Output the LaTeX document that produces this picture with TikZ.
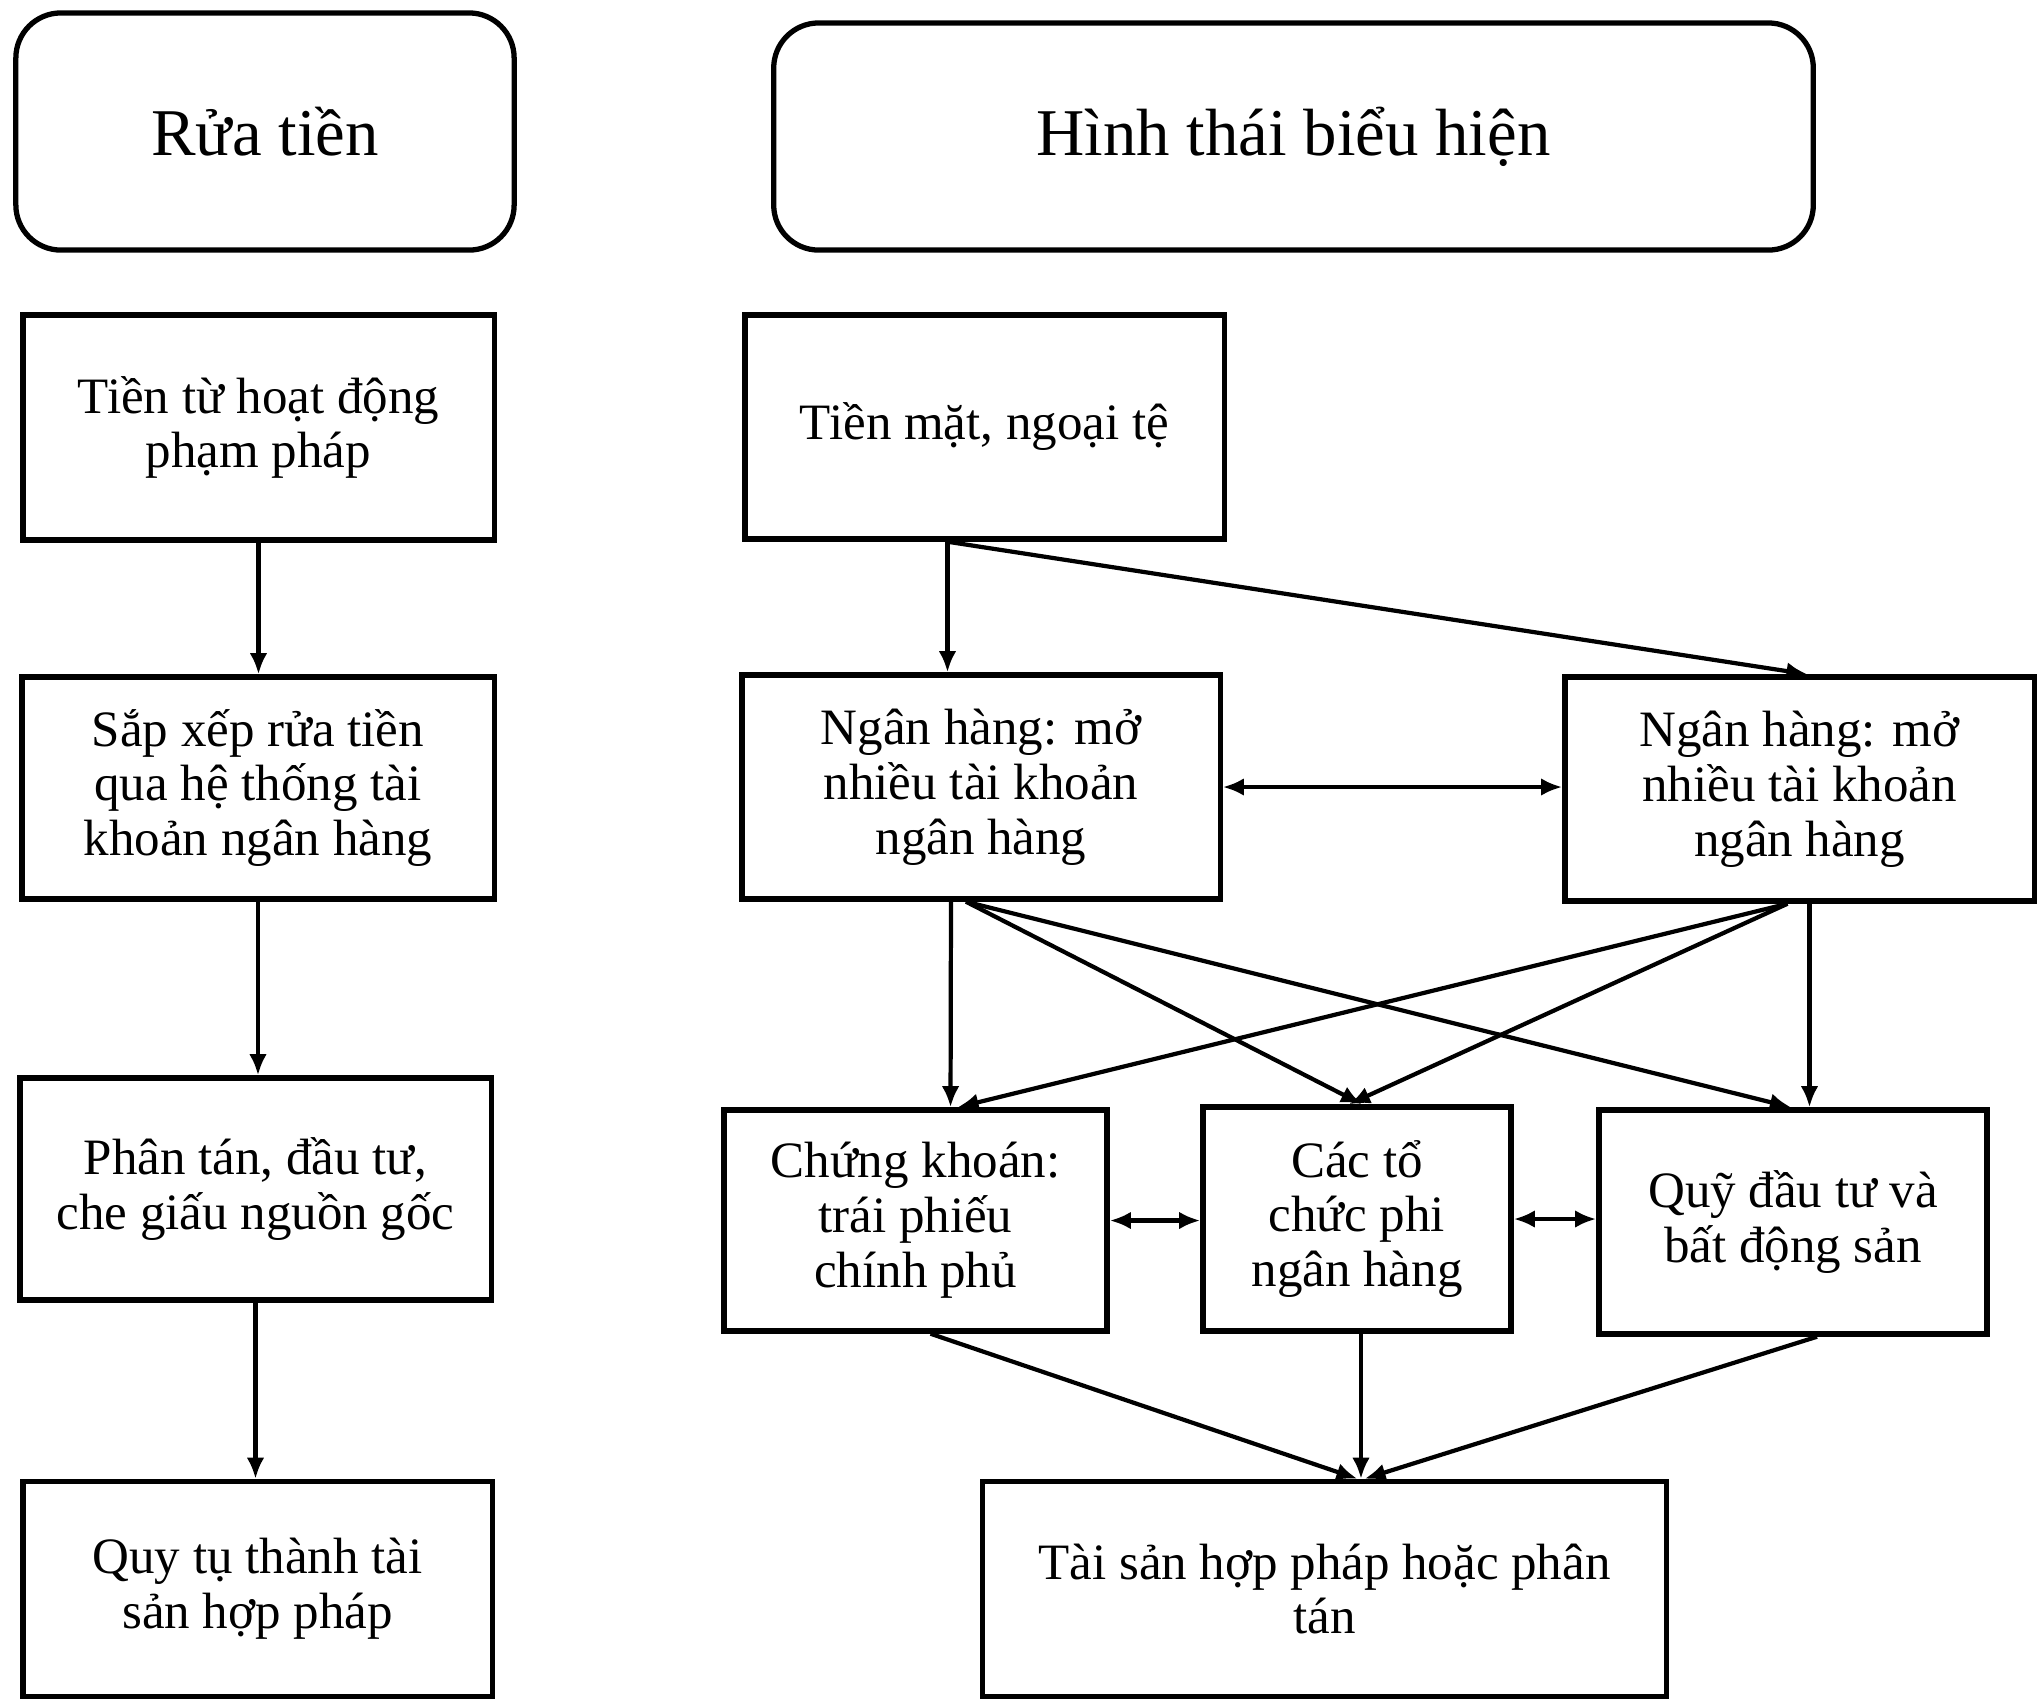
\documentclass[tikz,border=0pt]{standalone}
\usepackage{fontspec}
\setmainfont{Liberation Serif}
\usetikzlibrary{arrows.meta}
\tikzset{
  khung/.style={draw, line width=1.5pt, inner sep=0pt, align=center, font=\fontsize{14.5}{15.6}\selectfont},
  tieude/.style={draw, line width=1.5pt, rounded corners=0.45cm, inner sep=0pt, align=center, font=\fontsize{19}{22}\selectfont},
  mui/.style={line width=1.2pt, -{Latex[length=6pt,width=5pt]}},
  haimui/.style={line width=1.2pt, {Latex[length=6pt,width=5pt]}-{Latex[length=6pt,width=5pt]}}
}
\begin{document}
\begin{tikzpicture}[x=0.01cm, y=-0.01cm]
\useasboundingbox (0,0) rectangle (2042,1702);
\node[tieude, minimum width=4.98cm, minimum height=2.37cm] (rt) at (265,131.5){Rửa tiền};
\node[tieude, minimum width=10.39cm, minimum height=2.27cm] (ht) at (1293.5,136.5){Hình thái biểu hiện};
\node[khung, minimum width=4.71cm, minimum height=2.25cm] (a1) at (258.5,427.5){Tiền từ hoạt động\\phạm pháp};
\node[khung, minimum width=4.72cm, minimum height=2.22cm] (a2) at (258,788){Sắp xếp rửa tiền\\qua hệ thống tài\\khoản ngân hàng};
\node[khung, minimum width=4.71cm, minimum height=2.22cm] (a3) at (255.5,1189){Phân tán, đầu tư,\\che giấu nguồn gốc};
\node[khung, minimum width=4.69cm, minimum height=2.15cm] (a4) at (257.5,1589){Quy tụ thành tài\\sản hợp pháp};
\draw[mui](a1.south) -- (a1.south |- a2.north);
\draw[mui](a2.south) -- (a2.south |- a3.north);
\draw[mui](a3.south) -- (a3.south |- a4.north);
\node[khung, minimum width=4.79cm, minimum height=2.24cm] (b1) at (984.5,427){Tiền mặt, ngoại tệ};
\node[khung, minimum width=4.78cm, minimum height=2.24cm] (b2) at (981,787){Ngân hàng: mở\\nhiều tài khoản\\ngân hàng};
\node[khung, minimum width=4.69cm, minimum height=2.24cm] (b3) at (1799.5,789){Ngân hàng: mở\\nhiều tài khoản\\ngân hàng};
\draw[mui]([xshift=-0.37cm]b1.south) -- ([xshift=-0.37cm]b1.south |- b2.north);
\draw[mui]([xshift=-0.37cm]b1.south) -- ([xshift=0.08cm]b3.north);
\draw[haimui](b2.east) -- (b2.east -| b3.west);
\node[khung, minimum width=3.83cm, minimum height=2.21cm] (c1) at (915.5,1220.5){Chứng khoán:\\trái phiếu\\chính phủ};
\node[khung, minimum width=3.08cm, minimum height=2.24cm] (c2) at (1357,1219){Các tổ\\chức phi\\ngân hàng};
\node[khung, minimum width=3.88cm, minimum height=2.24cm] (c3) at (1793,1222){Quỹ đầu tư và\\bất động sản};
\draw[mui]([xshift=-0.3cm]b2.south) -- ([xshift=0.35cm]c1.north);
\draw[mui]([xshift=-0.15cm]b2.south) -- ([xshift=0.05cm]c2.north);
\draw[mui]([xshift=-0.15cm]b2.south) -- ([xshift=-0.02cm]c3.north);
\draw[mui]([xshift=-0.12cm]b3.south) -- ([xshift=0.42cm]c1.north);
\draw[mui]([xshift=-0.12cm]b3.south) -- ([xshift=-0.08cm]c2.north);
\draw[mui]([xshift=0.1cm]b3.south) -- ([xshift=0.1cm]b3.south |- c3.north);
\draw[haimui](c1.east) -- (c1.east -| c2.west);
\draw[haimui](c2.east) -- (c2.east -| c3.west);
\node[khung, minimum width=6.83cm, minimum height=2.15cm] (d) at (1324.5,1589){Tài sản hợp pháp hoặc phân\\tán};
\draw[mui]([xshift=0.15cm]c1.south) -- ([xshift=0.33cm]d.north);
\draw[mui]([xshift=0.04cm]c2.south) -- ([xshift=0.04cm]c2.south |- d.north);
\draw[mui]([xshift=0.24cm]c3.south) -- ([xshift=0.4cm]d.north);
\end{tikzpicture}
\end{document}
